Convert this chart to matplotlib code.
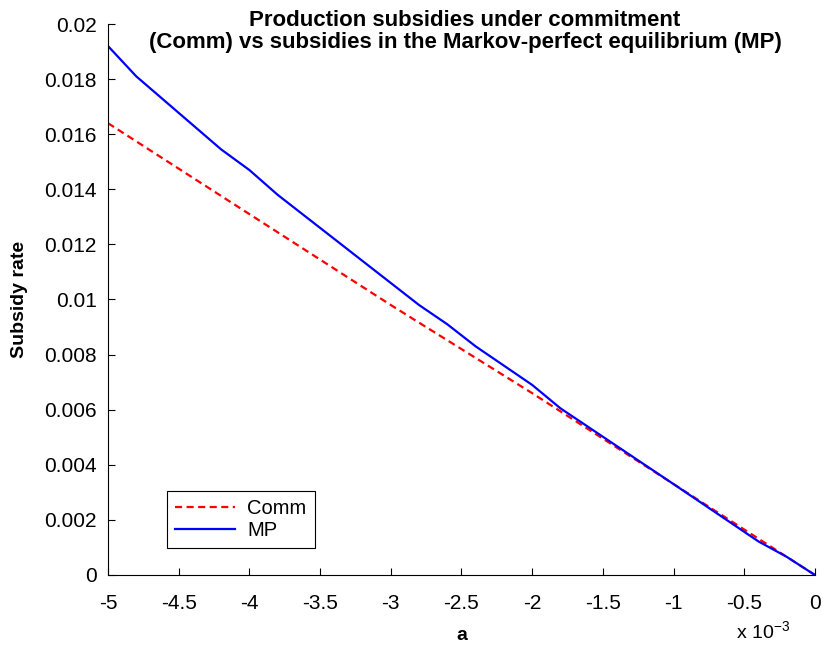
import matplotlib
matplotlib.use("Agg")
import matplotlib.pyplot as plt
from matplotlib.ticker import FuncFormatter

plt.rcParams['font.family'] = ['Liberation Sans', 'DejaVu Sans']
plt.rcParams['mathtext.fontset'] = 'custom'
plt.rcParams['mathtext.rm'] = 'Liberation Sans'

# a, in units of 1e-3
comm_a = [-5, -4, -3, -2, -1, 0]
comm_s = [0.0164, 0.0131, 0.0098, 0.0066, 0.0033, 0.0]

mp_a = [-5, -4.8, -4.2, -4.0, -3.8, -2.8, -2.6, -2.4, -2.0, -1.8, -1.0, -0.4, -0.2, 0]
mp_s = [0.0192, 0.0181, 0.01545, 0.0147, 0.0138, 0.0098, 0.0091, 0.0083,
        0.0069, 0.00605, 0.0033, 0.00122, 0.00066, 0.0]

xticks = [-5, -4.5, -4, -3.5, -3, -2.5, -2, -1.5, -1, -0.5, 0]
yticks = [0, 0.002, 0.004, 0.006, 0.008, 0.01, 0.012, 0.014, 0.016, 0.018, 0.02]

fig = plt.figure(figsize=(8.23, 6.47), dpi=100)
ax = fig.add_axes([0.1312, 0.1113, 0.859, 0.8516])

ax.plot(comm_a, comm_s, color='red', linestyle=(0, (3.2, 2)), linewidth=1.6, label='Comm')
ax.plot(mp_a, mp_s, color='blue', linewidth=1.6, label='MP')

ax.set_xlim(-5, 0)
ax.set_ylim(0, 0.02)
ax.set_xticks(xticks)
ax.set_yticks(yticks)
ax.xaxis.set_major_formatter(FuncFormatter(lambda v, p: f'{v:g}'))
ax.yaxis.set_major_formatter(FuncFormatter(lambda v, p: f'{v:g}'))
ax.tick_params(direction='in', length=5, labelsize=15)
ax.tick_params(axis='x', pad=14)
ax.tick_params(axis='y', pad=8)

for s in ['top', 'right']:
    ax.spines[s].set_visible(False)

ax.set_xlabel('a', fontsize=14, fontweight='bold', labelpad=10)
ax.set_ylabel('Subsidy rate', fontsize=14, fontweight='bold', labelpad=12)

fig.text(0.565, 0.985, 'Production subsidies under commitment\n'
         '(Comm) vs subsidies in the Markov-perfect equilibrium (MP)',
         ha='center', va='top', fontsize=16, fontweight='bold', linespacing=1.1)

fig.text(0.927, 0.006, r'x 10$^{\mathregular{-3}}$', fontsize=14, ha='center', va='bottom')

leg = ax.legend(loc='upper left', bbox_to_anchor=(0.083, 0.152), borderaxespad=0,
                fontsize=14.5, fancybox=False, framealpha=1, edgecolor='black',
                handlelength=3.0, labelspacing=0.15, borderpad=0.4, handletextpad=0.6)
leg.get_frame().set_linewidth(0.8)

fig.savefig('out.png', dpi=100)
